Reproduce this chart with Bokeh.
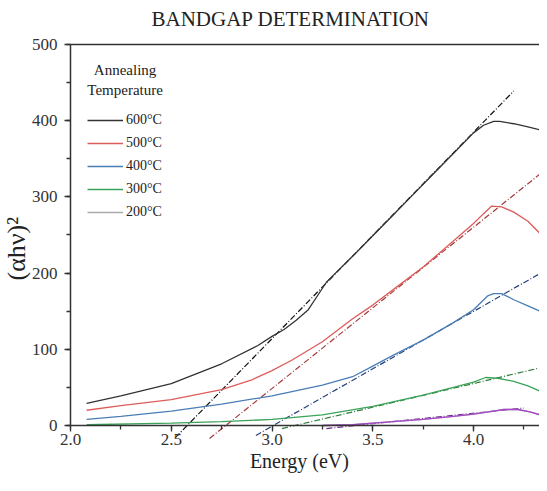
import math
from bokeh.plotting import figure
from bokeh.models import (Range1d, Legend, LegendItem, Label, LinearAxis, FixedTicker,
                          NumeralTickFormatter, SingleIntervalTicker)
from bokeh.embed import file_html
from bokeh.resources import INLINE

# ---------------- data ----------------
e600 = [2.08, 2.25, 2.5, 2.75, 2.93, 3.0, 3.06, 3.12, 3.18, 3.22, 3.27, 3.3, 3.4, 3.5, 3.6,
        3.7, 3.8, 3.9, 4.0, 4.05, 4.1, 4.13, 4.2, 4.27, 4.33]
v600 = [29, 39, 55, 81, 105, 117, 126, 138, 152, 168, 188, 196, 222, 249, 276,
        303, 330, 357, 384, 394, 399, 399, 396, 392, 388]

e500 = [2.08, 2.25, 2.5, 2.75, 2.9, 3.0, 3.1, 3.25, 3.4, 3.5, 3.6, 3.75, 3.9,
        4.0, 4.05, 4.09, 4.14, 4.2, 4.27, 4.33]
v500 = [20, 26, 34, 47, 60, 72, 86, 110, 140, 158, 178, 208, 242,
        265, 278, 288, 287, 280, 268, 252]

e400 = [2.08, 2.25, 2.5, 2.75, 3.0, 3.25, 3.4, 3.5, 3.6, 3.75, 3.9, 4.0,
        4.07, 4.1, 4.14, 4.2, 4.27, 4.33]
v400 = [8, 12, 19, 28, 39, 53, 64, 78, 92, 112, 135, 152,
        170, 173, 173, 165, 157, 150]

e300 = [2.08, 2.5, 2.75, 3.0, 3.25, 3.5, 3.75, 3.9, 4.0, 4.06, 4.12, 4.2, 4.27, 4.33]
v300 = [1, 3, 5, 8, 14, 25, 40, 50, 57, 63, 62, 58, 52, 45]

e200 = [3.25, 3.4, 3.5, 3.6, 3.75, 3.9, 4.0, 4.1, 4.15, 4.22, 4.28, 4.33]
v200 = [0, 1, 3, 5, 8, 12, 15, 19, 21, 21, 18, 14]

# linear fits (end points)
fit600_e = [2.52, 4.20]
fit600_v = [-16, 439]
fit500_e = [2.69, 4.33]
fit500_v = [-17, 330]
fit400_e = [2.92, 4.32]
fit400_v = [-13, 198]
fit300_e = [3.05, 4.32]
fit300_v = [-4, 75]
fit200_e = [3.27, 4.25]
fit200_v = [-4, 23]

legend_labels = ["600°C", "500°C", "400°C", "300°C", "200°C"]

X_MIN, X_MAX = 2.0, 4.3275
Y_MIN, Y_MAX = 0, 500

SERIF = "Liberation Serif"

p = figure(width=539, height=475, output_backend="svg", toolbar_location=None,
           x_range=Range1d(1.6526, X_MAX), y_range=Range1d(-65.6, 513.1),
           min_border_left=0, min_border_right=0, min_border_top=34,
           min_border_bottom=0, title="BANDGAP DETERMINATION")
p.outline_line_color = None
p.xgrid.visible = False
p.ygrid.visible = False

p.title.align = "left"
p.title.offset = 151
p.title.standoff = 8
p.title.text_font = SERIF
p.title.text_font_style = "normal"
p.title.text_font_size = "21px"
p.title.text_color = "#222222"

# axes drawn at x = 2.0 and y = 0
p.xaxis.fixed_location = 0
p.xaxis.bounds = (X_MIN, X_MAX)
p.xaxis.ticker = SingleIntervalTicker(interval=0.5, num_minor_ticks=2)
p.xaxis.formatter = NumeralTickFormatter(format="0.0")
p.yaxis.fixed_location = X_MIN
p.yaxis.bounds = (Y_MIN, Y_MAX)
p.yaxis.ticker = SingleIntervalTicker(interval=100, num_minor_ticks=2)

for ax in (p.xaxis, p.yaxis):
    ax.axis_line_color = "#333333"
    ax.axis_line_width = 1.5
    ax.major_tick_line_color = "#333333"
    ax.minor_tick_line_color = "#333333"
    ax.major_tick_line_width = 1.3
    ax.minor_tick_line_width = 1.3
    ax.major_tick_in = 0
    ax.major_tick_out = 6
    ax.minor_tick_in = 0
    ax.minor_tick_out = 4
    ax.major_label_text_font = SERIF
    ax.major_label_text_font_size = "17px"
    ax.major_label_text_color = "#333333"
p.xaxis.major_label_standoff = 2
p.yaxis.major_label_standoff = 7

# top frame line
top = LinearAxis(fixed_location=Y_MAX, bounds=(X_MIN, X_MAX), ticker=FixedTicker(ticks=[]),
                 axis_line_color="#333333", axis_line_width=1.5,
                 major_label_text_font_size="0px")
p.add_layout(top, "above")

p.add_layout(Label(x=3.136, y=-46, text="Energy (eV)", text_align="center",
                   text_baseline="middle", text_font=SERIF, text_font_size="20px",
                   text_color="#222222"))
p.add_layout(Label(x=1.732, y=232, text="(αhν)²", text_align="center", angle=math.pi / 2,
                   text_baseline="middle", text_font=SERIF, text_font_size="26px",
                   text_color="#222222"))

dash = "6 2 1 2"
p.line(fit600_e, fit600_v, line_color="#111111", line_width=1.2, line_dash=dash)
p.line(fit500_e, fit500_v, line_color="#a33a3a", line_width=1.2, line_dash=dash)
p.line(fit400_e, fit400_v, line_color="#23407a", line_width=1.2, line_dash=dash)
p.line(fit300_e, fit300_v, line_color="#2f7a3a", line_width=1.2, line_dash=dash)
p.line(fit200_e, fit200_v, line_color="#6a2a8a", line_width=1.2, line_dash=dash)

r600 = p.line(e600, v600, line_color="#333333", line_width=1.3)
r500 = p.line(e500, v500, line_color="#dd5c5c", line_width=1.3)
r400 = p.line(e400, v400, line_color="#4a7db5", line_width=1.3)
r300 = p.line(e300, v300, line_color="#3aa35a", line_width=1.3)
r200 = p.line(e200, v200, line_color="#aaaaaa", line_width=1.3)   # legend swatch colour
p.line(e200, v200, line_color="#a547c8", line_width=1.3)          # drawn colour

legend = Legend(items=[LegendItem(label=l, renderers=[r]) for l, r in
                       zip(legend_labels, [r600, r500, r400, r300, r200])],
                location=(87, 253), padding=0, margin=0, spacing=3,
                glyph_width=36, glyph_height=20, label_height=20, label_standoff=3,
                border_line_color=None, background_fill_alpha=0,
                label_text_font=SERIF, label_text_font_size="14px",
                label_text_color="#222222")
p.add_layout(legend)

for txt, yv in (("Annealing", 466), ("Temperature", 440)):
    p.add_layout(Label(x=2.271, y=yv, text=txt, text_align="center",
                       text_baseline="middle", text_font=SERIF,
                       text_font_size="15px", text_color="#222222"))

open("out.html", "w").write(file_html(p, INLINE))
